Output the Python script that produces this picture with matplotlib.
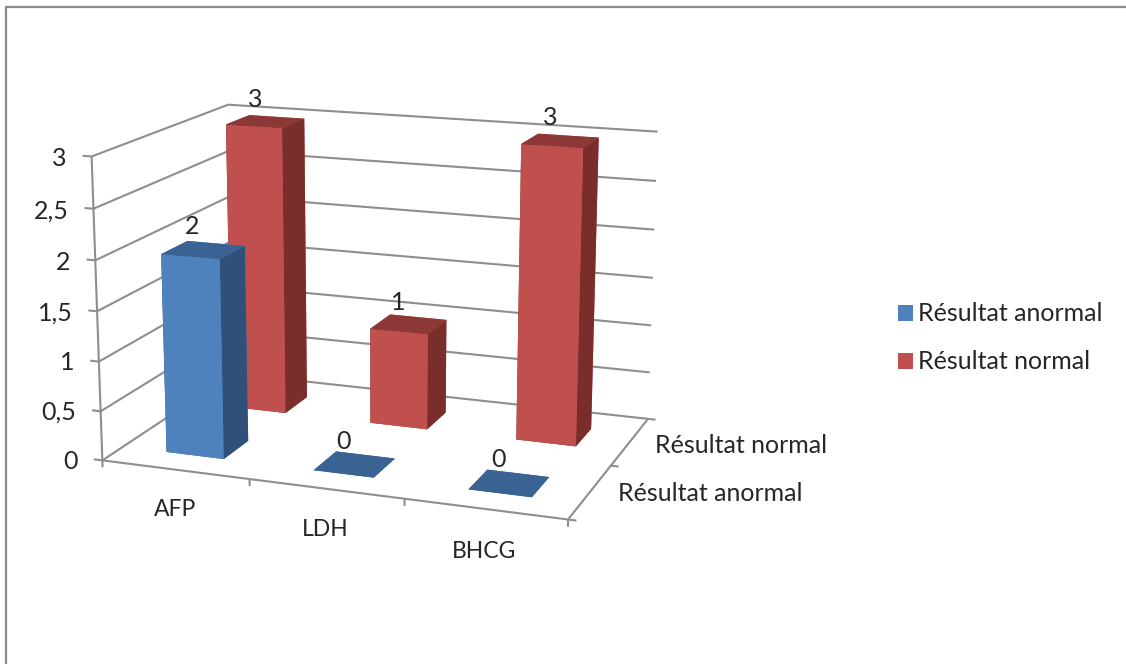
import matplotlib
matplotlib.use("Agg")
import matplotlib.pyplot as plt
from matplotlib.lines import Line2D
from matplotlib.patches import Patch
from mpl_toolkits.mplot3d import proj3d

# Chart data
categories = ["AFP", "LDH", "BHCG"]
series_names = ["Résultat anormal", "Résultat normal"]
anormal = [2, 0, 0]
normal = [3, 1, 3]
z_ticks = [0, 0.5, 1, 1.5, 2, 2.5, 3]
z_labels = ["0", "0,5", "1", "1,5", "2", "2,5", "3"]

# Face colours in bar3d order: bottom, top, front, back, left, right
blue_faces = ["#3A6293", "#3A6293", "#4F81BD", "#4F81BD", "#2F5078", "#2F5078"]
red_faces = ["#8C3836", "#8C3836", "#C0504D", "#C0504D", "#7A2E2C", "#7A2E2C"]
grid_color = "#8E8E8E"
text_color = "#262626"
font_size = 18

plt.rcParams['font.family'] = ['Lato', 'DejaVu Sans']

fig = plt.figure(figsize=(11.26, 6.64), dpi=100)
ax = fig.add_axes([0.0539, 0.0713, 0.5580, 0.9462], projection='3d')
ax.patch.set_visible(False)
ax.computed_zorder = False
ax.view_init(elev=14.646, azim=-69.821)
ax.set_proj_type('persp', focal_length=0.623)
ax.set_box_aspect((1.558, 1.035, 1.0))
ax.set_axis_off()

n_cat = len(categories)
n_ser = len(series_names)
top = z_ticks[-1]
ax.set_xlim(0, n_cat)
ax.set_ylim(0, n_ser)
ax.set_zlim(0, top)


def line3d(xs, ys, zs):
    ax.plot(xs, ys, zs, color=grid_color, lw=1.5, zorder=1, solid_capstyle='butt')


def label3d(x, y, z, s, ha='center', size=font_size):
    # Flat text placed at the projected position of a 3D point
    px, py, _ = proj3d.proj_transform(x, y, z, ax.get_proj())
    ax.text2D(px, py, s, transform=ax.transData, ha=ha, va='center',
              color=text_color, fontsize=size, zorder=50)


# Walls: gridlines on the left and back walls
for z, name in zip(z_ticks, z_labels):
    line3d([0, 0, n_cat], [0, n_ser, n_ser], [z, z, z])
    line3d([-0.06, 0], [0, 0], [z, z])
    label3d(-0.17, 0, z - 0.04, name, ha='right')

# Axis edges and ticks
line3d([0, 0], [0, 0], [0, top])
line3d([0, n_cat, n_cat], [0, 0, n_ser], [0, 0, 0])
for i in range(n_cat + 1):
    line3d([i, i], [0, 0], [0, -0.07])
for j in range(n_ser + 1):
    line3d([n_cat, n_cat + 0.05], [j, j], [0, 0])

# Bars, red row first so the blue row sits in front
bar_x = 0.305
bar_y = 0.285
bar_w = 0.395
bar_d = 0.38
for j, (values, faces) in reversed(list(enumerate([(anormal, blue_faces), (normal, red_faces)]))):
    for i, v in enumerate(values):
        ax.bar3d(i + bar_x, j + bar_y, 0, bar_w, bar_d, v, color=faces, shade=False,
                 linewidth=0, zorder=3 + (n_ser - j) * 10 - i)
        label3d(i + bar_x + bar_w / 2 - 0.07, j + bar_y + bar_d / 2, v + 0.22, str(v))

# Category and series labels
for i, name in enumerate(categories):
    label3d(i + 0.495, 0, -0.41, name, size=16.5)
for j, name in enumerate(series_names):
    label3d(n_cat + 0.16, j * 0.95 + 0.55, -0.015, name, ha='left')

# bar3d rescales the axes, so put the limits back
ax.set_xlim(0, n_cat)
ax.set_ylim(0, n_ser)
ax.set_zlim(0, top)

# Legend
handles = [Patch(facecolor=blue_faces[2], edgecolor='none'),
           Patch(facecolor=red_faces[2], edgecolor='none')]
fig.legend(handles, series_names, loc='center left', bbox_to_anchor=(0.7975, 0.491),
           frameon=False, fontsize=font_size, labelcolor=text_color, handlelength=0.6,
           handleheight=0.6, handletextpad=0.2, labelspacing=1.0, borderpad=0, borderaxespad=0)

# Chart border
fig.add_artist(Line2D([6 / 1126, 6 / 1126, 1], [0, 657 / 664, 657 / 664],
                      color="#8A8A8A", lw=1.6, zorder=5))

fig.savefig("out.png", dpi=100)
